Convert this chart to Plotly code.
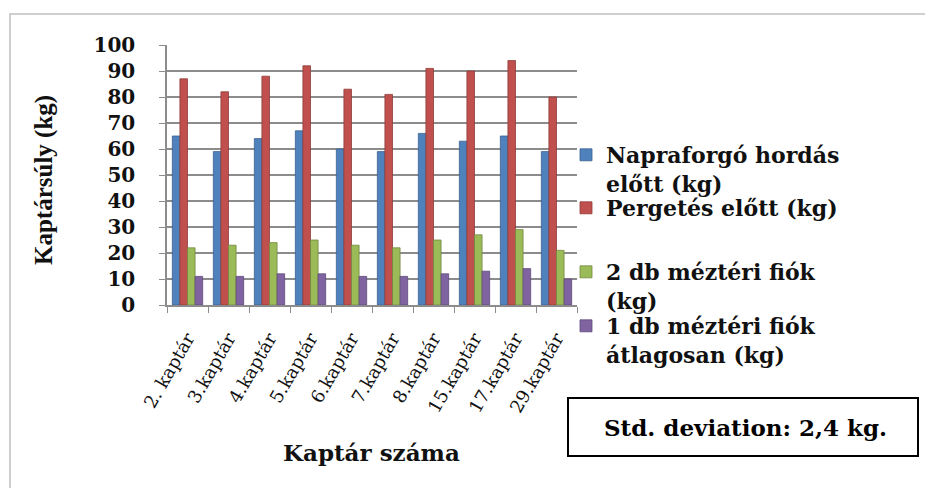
import plotly.graph_objects as go

categories = ["2. kaptár", "3.kaptár", "4.kaptár", "5.kaptár", "6.kaptár",
              "7.kaptár", "8.kaptár", "15.kaptár", "17.kaptár", "29.kaptár"]
napraforgo = [65, 59, 64, 67, 60, 59, 66, 63, 65, 59]
pergetes = [87, 82, 88, 92, 83, 81, 91, 90, 94, 80]
ket_fiok = [22, 23, 24, 25, 23, 22, 25, 27, 29, 21]
egy_fiok = [11, 11, 12, 12, 11, 11, 12, 13, 14, 10]
series_names = ["Napraforgó hordás<br>előtt (kg)", "Pergetés előtt (kg)",
                "2 db méztéri fiók<br>(kg)", "1 db méztéri fiók<br>átlagosan (kg)"]
colors = ["#4F81BD", "#C0504D", "#9BBB59", "#8064A2"]
edge = ["#3A6290", "#8E3B39", "#73893F", "#5E4A78"]
yticks = [0, 10, 20, 30, 40, 50, 60, 70, 80, 90, 100]

W, H = 925, 488
L, R, T, B = 167, 577, 45, 305
PW, PH = R - L, B - T

def px(x):
    return (x - L) / PW

def py(y):
    return (B - y) / PH

WIDE = "DejaVu Serif, serif"
TIMES = "Liberation Serif, Times New Roman, serif"
INK = "#111111"

fig = go.Figure()
legend_ids = ["legend", "legend2", "legend3", "legend4"]
for vals, name, c, e, lg in zip([napraforgo, pergetes, ket_fiok, egy_fiok],
                                series_names, colors, edge, legend_ids):
    fig.add_trace(go.Bar(x=categories, y=vals, name=name, legend=lg,
                         marker=dict(color=c, line=dict(color=e, width=0.8))))

legend_tops = [134, 187, 251, 305]
leg_common = dict(xanchor="left", yanchor="top", bgcolor="rgba(0,0,0,0)",
                  font=dict(family=WIDE, size=22, color=INK, weight="bold"),
                  valign="top", itemwidth=30)
layout_legends = {}
for lg, top in zip(legend_ids, legend_tops):
    layout_legends[lg] = dict(x=px(566), y=py(top), **leg_common)

fig.update_layout(
    width=W, height=H,
    margin=dict(l=L, r=W - R, t=T, b=H - B, autoexpand=False),
    paper_bgcolor="white", plot_bgcolor="white",
    barmode="group", bargap=0.26, bargroupgap=0,
    showlegend=True,
    font=dict(family=WIDE, color=INK),
    **layout_legends,
)
fig.update_xaxes(
    type="category", tickson="boundaries", ticks="outside", ticklen=6,
    tickcolor="#8c8c8c", showline=True, linecolor="#8c8c8c", linewidth=1.5,
    tickangle=-60, tickfont=dict(family=WIDE, size=18, color=INK),
    ticklabelstandoff=14, ticklabelshift=0, showgrid=False,
)
fig.update_yaxes(
    range=[0, 100], tickvals=yticks, ticks="outside", ticklen=6,
    tickcolor="#8c8c8c", showline=True, linecolor="#8c8c8c", linewidth=1.5,
    showgrid=True, gridcolor="#8c8c8c", gridwidth=1.5,
    tickfont=dict(family=WIDE, size=20, color=INK, weight="bold"),
    zeroline=False, ticklabelstandoff=20,
)

# outer chart border
fig.add_shape(type="rect", xref="paper", yref="paper",
              x0=px(10), x1=px(940), y0=py(500), y1=py(14),
              line=dict(color="#c0c0c0", width=1.5), fillcolor="rgba(0,0,0,0)",
              layer="below")
# std deviation box
fig.add_shape(type="rect", xref="paper", yref="paper",
              x0=px(568), x1=px(918), y0=py(456), y1=py(398),
              line=dict(color="black", width=2), fillcolor="white")
fig.add_annotation(text="<b>Std. deviation: 2,4 kg.</b>", xref="paper", yref="paper",
                   x=px(745), y=py(427), xanchor="center", yanchor="middle",
                   showarrow=False, font=dict(family=WIDE, size=23, color="black"))
# axis titles
fig.add_annotation(text="<b>Kaptár száma</b>", xref="paper", yref="paper",
                   x=px(371), y=py(452), xanchor="center", yanchor="middle",
                   showarrow=False, font=dict(family=WIDE, size=23, color=INK))
fig.add_annotation(text="<b>Kaptársúly (kg)</b>", xref="paper", yref="paper",
                   x=px(44), y=py(180), xanchor="center", yanchor="middle",
                   showarrow=False, textangle=-90,
                   font=dict(family=TIMES, size=25, color=INK))

fig.write_html("out.html", config={"displayModeBar": False},
               post_script="document.body.style.margin='0';document.body.style.overflow='hidden';")
